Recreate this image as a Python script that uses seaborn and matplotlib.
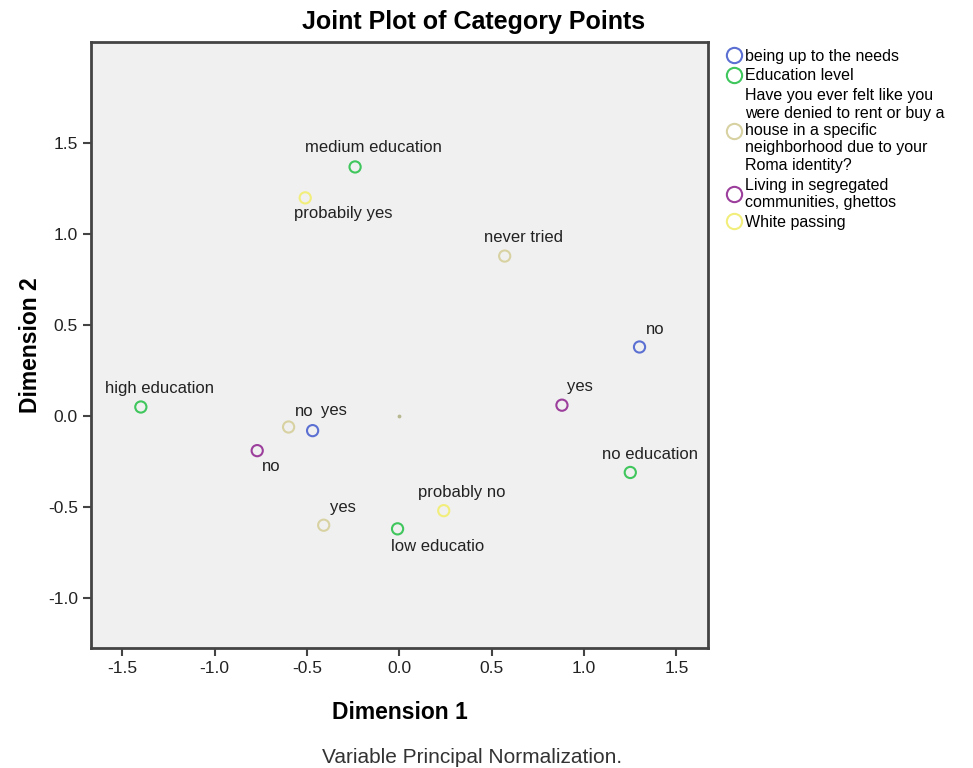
import pandas as pd
import matplotlib.pyplot as plt
import seaborn as sns
from matplotlib.lines import Line2D

# ---- DATA ----
variables = [
    'being up to the needs',
    'Education level',
    'Have you ever felt like you\nwere denied to rent or buy a\nhouse in a specific\nneighborhood due to your\nRoma identity?',
    'Living in segregated\ncommunities, ghettos',
    'White passing',
]
colors = ['#5b70d2', '#3fc65c', '#d8d2a2', '#9c3f9c', '#f2ee7c']

point_var = [0, 0, 1, 1, 1, 1, 2, 2, 2, 3, 3, 4, 4]
point_label = ['no', 'yes',
               'medium education', 'high education', 'no education', 'low educatio',
               'never tried', 'no', 'yes',
               'yes', 'no',
               'probabily yes', 'probably no']
dim1 = [1.30, -0.47, -0.24, -1.40, 1.25, -0.01, 0.57, -0.60, -0.41, 0.88, -0.77, -0.51, 0.24]
dim2 = [0.38, -0.08, 1.37, 0.05, -0.31, -0.62, 0.88, -0.06, -0.60, 0.06, -0.19, 1.20, -0.52]

# label offsets in pixels (layout only)
label_offsets = [(16, 17), (21, 20), (18, 19), (19, 18), (20, 18), (40, -18),
                 (19, 19), (16, 16), (19, 18), (18, 19), (14, -16), (38, -16), (18, 18)]

df = pd.DataFrame({'dim1': dim1, 'dim2': dim2,
                   'var': [variables[i] for i in point_var],
                   'label': point_label})

plt.rcParams['font.family'] = ['Liberation Sans', 'DejaVu Sans']
plt.rcParams['axes.unicode_minus'] = False

fig = plt.figure(figsize=(9.73, 7.68), dpi=100)
ax = fig.add_axes([0.0935, 0.1563, 0.634, 0.789])
ax.set_facecolor('#f0f0f0')

palette = dict(zip(variables, colors))
sns.scatterplot(data=df, x='dim1', y='dim2', hue='var', palette=palette,
                hue_order=variables, s=65, ax=ax, legend=False, zorder=3)
coll = ax.collections[0]
fc = coll.get_facecolors()
coll.set_edgecolors(fc)
coll.set_facecolors('none')
coll.set_linewidths(1.5)

# origin marker
ax.scatter([0.0], [0.0], s=3, color='#b8b890', zorder=2)

for x, y, lab, off in zip(dim1, dim2, point_label, label_offsets):
    ax.annotate(lab, (x, y), xytext=off, textcoords='offset pixels',
                ha='center', va='center', fontsize=12, color='#222222')

ax.set_xlim(-1.67, 1.67)
ax.set_ylim(-1.275, 2.057)
ax.set_xticks([-1.5, -1.0, -0.5, 0.0, 0.5, 1.0, 1.5])
ax.set_yticks([-1.0, -0.5, 0.0, 0.5, 1.0, 1.5])
ax.tick_params(labelsize=12.5, length=6, width=1.5, color='#444444', labelcolor='#222222')
for sp in ax.spines.values():
    sp.set_color('#444444')
    sp.set_linewidth(2)

ax.set_xlabel('Dimension 1', fontsize=16.5, fontweight='bold')
ax.set_ylabel('Dimension 2', fontsize=16.5, fontweight='bold')
ax.xaxis.set_label_coords(0.5, -0.087)
ax.yaxis.set_label_coords(-0.08, 0.5)

fig.text(0.487, 0.972, 'Joint Plot of Category Points', ha='center', va='center',
         fontsize=18, fontweight='bold')
fig.text(0.485, 0.014, 'Variable Principal Normalization.', ha='center', va='center',
         fontsize=15, color='#333333')

handles = [Line2D([], [], marker='o', linestyle='none', markersize=11,
                  markerfacecolor='none', markeredgecolor=c, markeredgewidth=1.5)
           for c in colors]
fig.legend(handles, variables, loc='upper left', bbox_to_anchor=(0.738, 0.945),
           frameon=False, fontsize=11.5, handletextpad=0.1, handlelength=1.2,
           labelspacing=0.3, borderaxespad=0)

fig.savefig('out.png', dpi=100, facecolor='white')
